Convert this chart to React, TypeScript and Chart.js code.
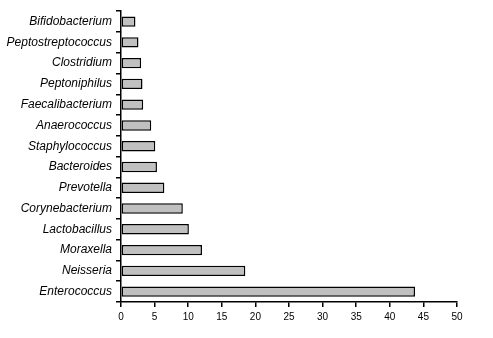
import React, { useEffect, useRef } from "react";
import { Chart, registerables } from "chart.js";

Chart.register(...registerables);

const categories = [
  "Bifidobacterium",
  "Peptostreptococcus",
  "Clostridium",
  "Peptoniphilus",
  "Faecalibacterium",
  "Anaerococcus",
  "Staphylococcus",
  "Bacteroides",
  "Prevotella",
  "Corynebacterium",
  "Lactobacillus",
  "Moraxella",
  "Neisseria",
  "Enterococcus",
];

const values = [2.15, 2.6, 3.0, 3.2, 3.3, 4.5, 5.1, 5.35, 6.45, 9.2, 10.1, 12.05, 18.5, 43.75];

const xMin = 0;
const xMax = 50;
const xStep = 5;

export default function App() {
  const ref = useRef<HTMLCanvasElement | null>(null);

  useEffect(() => {
    if (!ref.current) return;
    const chart = new Chart(ref.current, {
      type: "bar",
      data: {
        labels: categories,
        datasets: [
          {
            data: values,
            backgroundColor: "#c0c0c0",
            borderColor: "#000000",
            borderWidth: 1.5,
            borderSkipped: false,
            barPercentage: 0.5,
            categoryPercentage: 1,
          },
        ],
      },
      options: {
        indexAxis: "y",
        animation: false,
        responsive: false,
        devicePixelRatio: 1,
        layout: { padding: { top: 6, right: 36, left: 0, bottom: 0 } },
        plugins: {
          legend: { display: false },
          tooltip: { enabled: false },
        },
        scales: {
          x: {
            type: "linear",
            min: xMin,
            max: xMax,
            ticks: {
              stepSize: xStep,
              color: "#000",
              font: { family: "'Liberation Sans', Arial, sans-serif", size: 10 },
              padding: 4,
              maxRotation: 0,
            },
            grid: {
              drawOnChartArea: false,
              drawTicks: true,
              tickLength: 5,
              color: "#000",
              lineWidth: 1.5,
            },
            border: { display: true, color: "#000", width: 1.5 },
            afterFit: (scale: any) => {
              scale.height = 36;
            },
          },
          y: {
            type: "category",
            ticks: {
              color: "#000",
              font: { family: "'Liberation Sans', Arial, sans-serif", size: 12, style: "italic" },
              padding: 4,
            },
            grid: {
              offset: true,
              drawOnChartArea: false,
              drawTicks: true,
              tickLength: 5,
              color: "#000",
              lineWidth: 1.5,
            },
            border: { display: true, color: "#000", width: 1.5 },
            afterFit: (scale: any) => {
              scale.width = 121;
            },
          },
        },
      },
    });
    return () => chart.destroy();
  }, []);

  return (
    <div style={{ position: "fixed", left: 0, top: 0, width: 493, height: 338, background: "#fff" }}>
      <canvas ref={ref} width={493} height={338} />
    </div>
  );
}
